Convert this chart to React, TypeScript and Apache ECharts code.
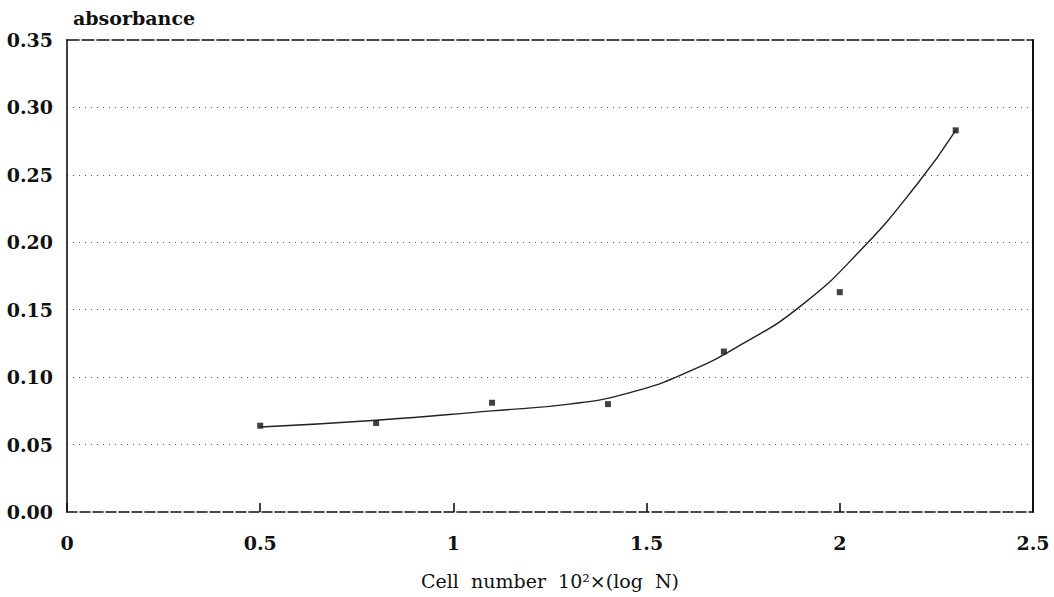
import React, { useEffect, useRef } from "react";
import * as echarts from "echarts";

const pointX = [0.5, 0.8, 1.1, 1.4, 1.7, 2.0, 2.3];
const pointY = [0.064, 0.066, 0.081, 0.080, 0.119, 0.163, 0.283];

const curveX = [0.5, 0.8, 1.1, 1.3, 1.45, 1.6, 1.75, 1.9, 2.05, 2.2, 2.3];
const curveY = [0.063, 0.068, 0.075, 0.080, 0.088, 0.103, 0.125, 0.153, 0.193, 0.243, 0.283];

const yTicks = ["0.00", "0.05", "0.10", "0.15", "0.20", "0.25", "0.30", "0.35"];
const xTickLabels: Record<string, string> = { "0": "0", "0.5": "0.5", "1": "1", "1.5": "1.5", "2": "2", "2.5": "2.5" };

const yName = "absorbance";
const xName = "Cell  number  10\u00B2\u00D7(log  N)";

const FONT = "'DejaVu Serif', 'Liberation Serif', serif";

export default function App() {
  const ref = useRef<HTMLDivElement>(null);
  useEffect(() => {
    if (!ref.current) return;
    const chart = echarts.init(ref.current, undefined, { renderer: "svg" });
    chart.setOption({
      animation: false,
      backgroundColor: "#ffffff",
      grid: { left: 67, right: 21, top: 40, bottom: 85, containLabel: false },
      xAxis: [
        {
          type: "value",
          min: 0,
          max: 2.5,
          interval: 0.5,
          position: "bottom",
          name: xName,
          nameLocation: "middle",
          nameGap: 59,
          nameTextStyle: { fontFamily: FONT, fontSize: 19, color: "#111" },
          axisLine: { show: true, onZero: false, lineStyle: { color: "#111", type: [10, 3], width: 1.6 } },
          axisTick: { show: true, inside: true, length: 9, lineStyle: { color: "#111", width: 1.6, type: "solid" } },
          axisLabel: {
            fontFamily: FONT,
            fontWeight: "bold",
            fontSize: 19,
            color: "#111",
            margin: 21,
            formatter: (v: number) => xTickLabels[String(v)] ?? String(v),
          },
          splitLine: { show: false },
        },
        {
          type: "value",
          min: 0,
          max: 2.5,
          interval: 0.5,
          position: "top",
          axisLine: { show: true, onZero: false, lineStyle: { color: "#111", type: [12, 3], width: 1.6 } },
          axisTick: { show: false },
          axisLabel: { show: false },
          splitLine: { show: false },
        },
      ],
      yAxis: [
        {
          type: "value",
          min: 0,
          max: 0.35,
          interval: 0.05,
          position: "left",
          axisLine: { show: true, onZero: false, lineStyle: { color: "#111", width: 1.6 } },
          axisTick: { show: false },
          axisLabel: {
            fontFamily: FONT,
            fontWeight: "bold",
            fontSize: 19,
            color: "#111",
            margin: 14,
            formatter: (v: number) => yTicks[Math.round(v / 0.05)] ?? String(v),
          },
          splitLine: {
            show: true,
            showMinLine: false,
            showMaxLine: false,
            lineStyle: { color: "#555", type: [1, 5], width: 1 },
          },
        },
        {
          type: "value",
          min: 0,
          max: 0.35,
          interval: 0.05,
          position: "right",
          axisLine: { show: true, onZero: false, lineStyle: { color: "#111", width: 2 } },
          axisTick: { show: false },
          axisLabel: { show: false },
          splitLine: { show: false },
        },
      ],
      graphic: [
        {
          type: "text",
          left: 73,
          top: 8,
          style: {
            text: yName,
            font: "bold 19px 'DejaVu Serif', serif",
            fill: "#111",
          },
        },
      ],
      series: [
        {
          type: "line",
          smooth: 0.5,
          showSymbol: false,
          data: curveX.map((x, i) => [x, curveY[i]]),
          lineStyle: { color: "#222", width: 1.4 },
          silent: true,
        },
        {
          type: "scatter",
          symbol: "rect",
          symbolSize: 6,
          data: pointX.map((x, i) => [x, pointY[i]]),
          itemStyle: { color: "#111" },
        },
      ],
    });
    return () => chart.dispose();
  }, []);
  return <div ref={ref} style={{ width: 1054, height: 597, position: "absolute", left: 0, top: 0 }} />;
}
